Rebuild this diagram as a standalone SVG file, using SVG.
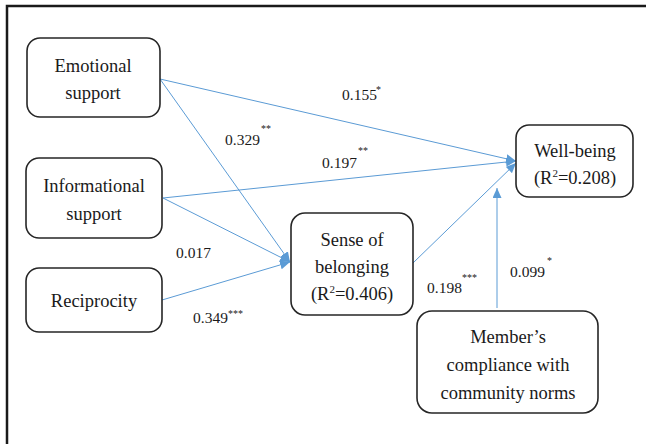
<svg xmlns="http://www.w3.org/2000/svg" width="646" height="444" viewBox="0 0 646 444">
<style>
.box{fill:#fff;stroke:#262626;stroke-width:1.6}
text{font-family:'Liberation Serif','DejaVu Serif',serif;fill:#1a1a1a}
.t{font-size:18.5px;text-anchor:middle}
.n{font-size:15.5px}
.s{font-size:10px}
.c{stroke:#5B9BD5;stroke-width:1;fill:none;marker-end:url(#ah)}
</style>
<defs>
<marker id="ah" markerUnits="userSpaceOnUse" markerWidth="11" markerHeight="10" refX="10" refY="4.5" orient="auto">
<path d="M0,0 L10,4.5 L0,9 z" fill="#5B9BD5"/>
</marker>
</defs>
<rect width="646" height="444" fill="#fff"/>
<rect x="7" y="6" width="700" height="500" fill="none" stroke="#1a1a1a" stroke-width="2.5"/>
<g id="connectors">
<line class="c" x1="160" y1="79" x2="516" y2="161"/>
<line class="c" x1="160" y1="79" x2="290" y2="262"/>
<line class="c" x1="163" y1="198" x2="516" y2="161"/>
<line class="c" x1="163" y1="198" x2="290" y2="262"/>
<line class="c" x1="162" y1="300" x2="290" y2="262"/>
<line class="c" x1="413" y1="263" x2="516" y2="163"/>
<line class="c" x1="497" y1="308" x2="497" y2="188"/>
</g>
<g id="emotional">
<rect class="box" x="27" y="38" width="133" height="79" rx="13"/>
<text class="t" x="93" y="72" font-family="Liberation Serif, serif">Emotional</text>
<text class="t" x="93" y="99">support</text>
</g>
<g id="informational">
<rect class="box" x="26" y="158" width="136" height="80" rx="13"/>
<text class="t" x="94" y="192">Informational</text>
<text class="t" x="94" y="220">support</text>
</g>
<g id="reciprocity">
<rect class="box" x="26" y="268" width="136" height="64" rx="13"/>
<text class="t" x="94" y="307">Reciprocity</text>
</g>
<g id="belonging">
<rect class="box" x="291" y="213" width="122" height="102" rx="14"/>
<text class="t" x="352" y="246">Sense of</text>
<text class="t" x="352" y="273">belonging</text>
<text class="t" x="352" y="300">(R<tspan font-size="11" dy="-7">2</tspan><tspan dy="7">=0.406)</tspan></text>
</g>
<g id="wellbeing">
<rect class="box" x="516" y="125" width="117" height="72" rx="13"/>
<text class="t" x="575" y="157">Well-being</text>
<text class="t" x="575" y="184">(R<tspan font-size="11" dy="-7">2</tspan><tspan dy="7">=0.208)</tspan></text>
</g>
<g id="compliance">
<rect class="box" x="417" y="311" width="181" height="102" rx="15"/>
<text class="t" x="508" y="343">Member’s</text>
<text class="t" x="508" y="371">compliance with</text>
<text class="t" x="508" y="399">community norms</text>
</g>
<g id="labels">
<text class="n" x="342" y="100">0.155</text><text class="s" x="376" y="93">*</text>
<text class="n" x="225" y="145">0.329</text><text class="s" x="261" y="132">**</text>
<text class="n" x="322" y="168">0.197</text><text class="s" x="358" y="154">**</text>
<text class="n" x="176" y="258">0.017</text>
<text class="n" x="193" y="323">0.349</text><text class="s" x="228" y="317">***</text>
<text class="n" x="427" y="293">0.198</text><text class="s" x="462" y="281">***</text>
<text class="n" x="510" y="277">0.099</text><text class="s" x="547" y="264">*</text>
</g>
</svg>
